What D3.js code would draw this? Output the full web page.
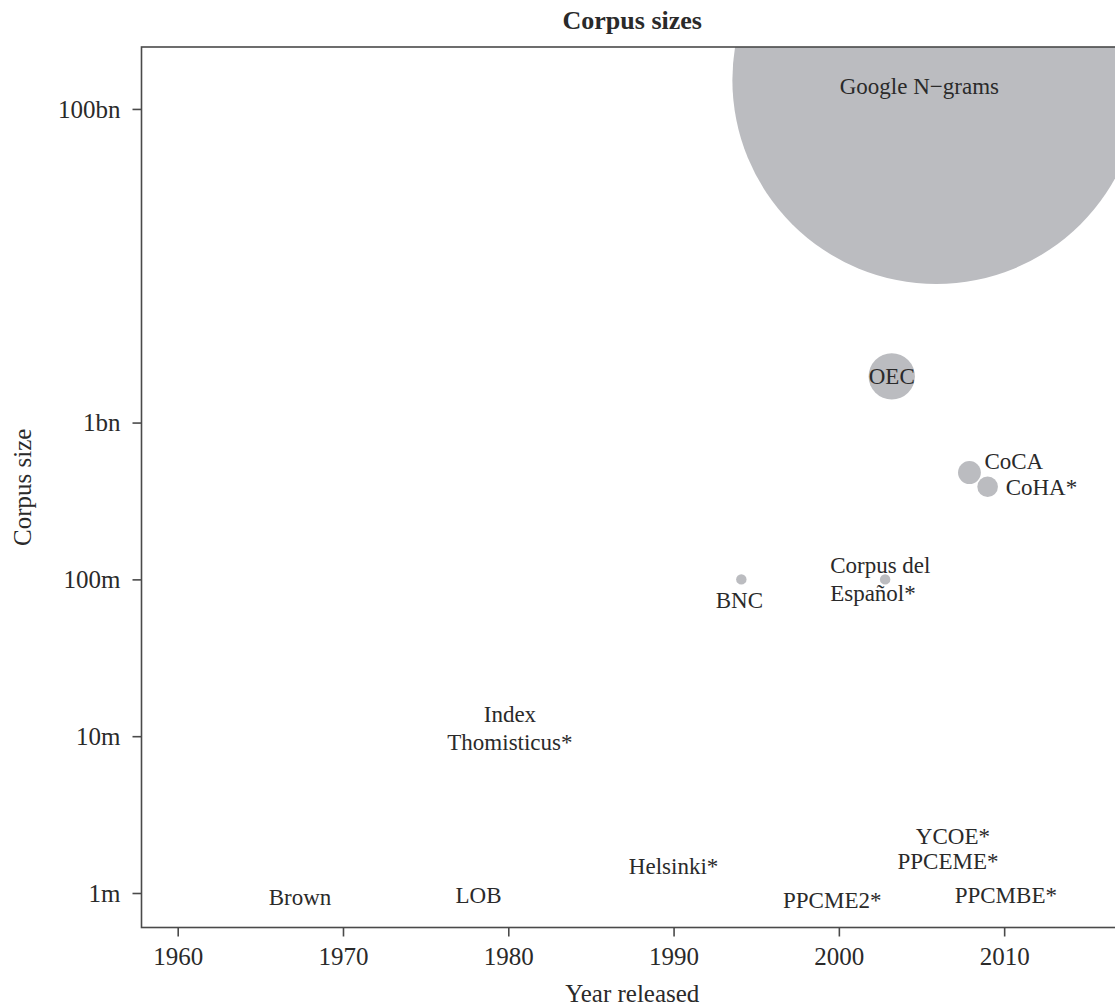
<!DOCTYPE html>
<html>
<head>
<meta charset="utf-8">
<script src="https://cdn.jsdelivr.net/npm/d3@7"></script>
<style>
  html, body { margin: 0; padding: 0; background: #fff; overflow: hidden; }
  svg text { font-family: "Liberation Serif", "Times New Roman", serif; fill: #2a2a2a; }
</style>
</head>
<body>
<svg id="chart" width="1130" height="1007"></svg>
<script>
// ---- data ----
const corpusNames = ["Google N\u2212grams", "OEC", "CoCA", "CoHA*", "BNC", "Corpus del\nEspañol*",
  "Brown", "LOB", "Helsinki*", "Index\nThomisticus*", "PPCME2*", "YCOE*", "PPCEME*", "PPCMBE*"];
const yearsReleased = [2005.9, 2003.2, 2007.9, 2009.0, 1994.1, 2002.8,
  1967.4, 1978.2, 1990.0, 1980.1, 1999.6, 2006.9, 2006.6, 2010.1];
const corpusSizes = [153e9, 1.97e9, 480e6, 390e6, 100e6, 100e6,
  0.93e6, 0.96e6, 1.47e6, 11.2e6, 0.89e6, 2.28e6, 1.58e6, 0.97e6];
const xTickValues = [1960, 1970, 1980, 1990, 2000, 2010];
const yTickValues = [1e6, 1e7, 1e8, 1e9, 1e11];
const yTickLabels = ["1m", "10m", "100m", "1bn", "100bn"];

// label layout (offsets in px relative to the point; anchor)
const labelLayout = {
  "Google N\u2212grams": { dx: -17, dy: 7, anchor: "middle" },
  "CoCA": { dx: 15, dy: -11, anchor: "start" },
  "CoHA*": { dx: 18, dy: 1, anchor: "start" },
  "BNC": { dx: -2, dy: 21, anchor: "middle" },
  "Corpus del\nEspañol*": { dx: -55, dy: 0, anchor: "start" }
};

(function () {
const svg = d3.select("#chart");
const pL = 141.5, pT = 47, pR = 1123, pB = 927.5;

const x = d3.scaleLinear().domain([1957.81, 2017.19]).range([pL, pR]);
const y = d3.scaleLog().domain([Math.pow(10, 5.78), Math.pow(10, 11.395)]).range([pB, pT]);
const r = d3.scaleSqrt().domain([0, 153e9]).range([0, 204]);

const data = corpusNames.map((n, i) => ({ name: n, year: yearsReleased[i], size: corpusSizes[i] }));

svg.append("defs").append("clipPath").attr("id", "panel")
  .append("rect").attr("x", pL).attr("y", pT).attr("width", pR - pL).attr("height", pB - pT);

// bubbles (too small ones are hidden beneath their labels in the original)
svg.append("g").attr("clip-path", "url(#panel)")
  .selectAll("circle").data(data.filter(d => r(d.size) >= 3)).join("circle")
  .attr("cx", d => x(d.year)).attr("cy", d => y(d.size)).attr("r", d => r(d.size))
  .attr("fill", "#bbbcc0");

const fs = 23, lh = 27.5, afs = 25;
const lab = svg.append("g").attr("clip-path", "url(#panel)");
data.forEach(d => {
  const L = labelLayout[d.name] || { dx: 0, dy: 0, anchor: "middle" };
  const lines = d.name.split("\n");
  const cx = x(d.year) + L.dx, cy = y(d.size) + L.dy;
  const t = lab.append("text").attr("text-anchor", L.anchor).attr("font-size", fs);
  lines.forEach((ln, j) => {
    t.append("tspan").attr("x", cx)
      .attr("y", cy + (j - (lines.length - 1) / 2) * lh + 7.5)
      .text(ln);
  });
});

svg.append("rect").attr("x", pL).attr("y", pT).attr("width", pR - pL).attr("height", pB - pT)
  .attr("fill", "none").attr("stroke", "#4a4a4a").attr("stroke-width", 1.6);

const xAxis = d3.axisBottom(x).tickValues(xTickValues).tickFormat(d3.format("d")).tickSize(9).tickPadding(6);
const gx = svg.append("g").attr("transform", `translate(0,${pB})`).call(xAxis);
const yAxis = d3.axisLeft(y).tickValues(yTickValues).tickFormat((d, i) => yTickLabels[i]).tickSize(9).tickPadding(12);
const gy = svg.append("g").attr("transform", `translate(${pL},0)`).call(yAxis);
[gx, gy].forEach(g => {
  g.select(".domain").remove();
  g.selectAll(".tick line").attr("stroke", "#4a4a4a").attr("stroke-width", 1.6);
  g.selectAll(".tick text").attr("font-size", afs).attr("fill", "#2a2a2a")
    .attr("font-family", "Liberation Serif, serif");
});
gx.selectAll(".tick text").attr("dy", "22.5px");
gy.selectAll(".tick text").attr("dy", "0.33em");

svg.append("text").attr("x", (pL + pR) / 2).attr("y", 29).attr("text-anchor", "middle")
  .attr("font-size", 26).attr("font-weight", "bold").text("Corpus sizes");
svg.append("text").attr("x", (pL + pR) / 2).attr("y", 1002).attr("text-anchor", "middle")
  .attr("font-size", afs).text("Year released");
svg.append("text").attr("transform", `translate(31,${(pT + pB) / 2}) rotate(-90)`)
  .attr("text-anchor", "middle").attr("font-size", afs).text("Corpus size");
})();
</script>
</body>
</html>
